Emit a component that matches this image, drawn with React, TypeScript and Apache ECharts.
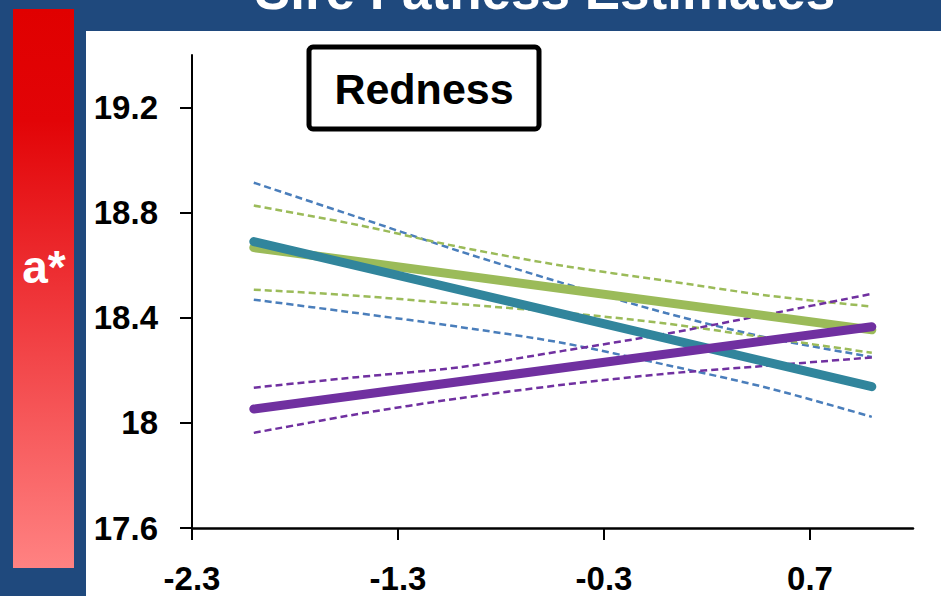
import React, { useEffect, useRef } from "react";
import * as echarts from "echarts";

// Data
const xTickValues = [-2.3, -1.3, -0.3, 0.7];
const yTickValues = [17.6, 18, 18.4, 18.8, 19.2];

const lineX = [-2, 1];
const greenMean = [18.667, 18.354];
const tealMean = [18.69, 18.138];
const purpleMean = [18.053, 18.366];

const bandX = [-2, -1.5, -1, -0.5, 0, 0.5, 1];
const blueUpper = [18.914, 18.784, 18.653, 18.532, 18.418, 18.323, 18.251];
const blueLower = [18.469, 18.418, 18.365, 18.304, 18.221, 18.132, 18.023];
const greenUpper = [18.827, 18.754, 18.669, 18.598, 18.541, 18.484, 18.443];
const greenLower = [18.507, 18.484, 18.452, 18.42, 18.378, 18.323, 18.267];
const purpleUpper = [18.134, 18.174, 18.212, 18.274, 18.339, 18.414, 18.491];
const purpleLower = [17.962, 18.033, 18.094, 18.145, 18.187, 18.218, 18.249];

const zip = (xs: number[], ys: number[]) => xs.map((x, i) => [x, ys[i]]);

const FONT = "'Liberation Sans', Arial, sans-serif";

export default function App() {
  const ref = useRef<HTMLDivElement>(null);
  useEffect(() => {
    if (!ref.current) return;
    const chart = echarts.init(ref.current, undefined, { renderer: "svg" });

    const dashed = (name: string, ys: number[], color: string) => ({
      name,
      type: "line",
      data: zip(bandX, ys),
      symbol: "none",
      smooth: 0.3,
      lineStyle: { color, width: 2.5, type: [7, 4] },
      z: 2,
    });
    const solid = (name: string, ys: number[], color: string, z: number) => ({
      name,
      type: "line",
      data: zip(lineX, ys),
      symbol: "none",
      lineStyle: { color, width: 9, cap: "round" },
      z,
    });

    chart.setOption({
      animation: false,
      backgroundColor: "#1F497D",
      grid: { left: 192, right: 28, top: 55, bottom: 68, containLabel: false },
      xAxis: {
        type: "value",
        min: -2.3,
        max: 1.2,
        axisLine: { show: true, onZero: false, lineStyle: { color: "#000", width: 2.5 } },
        axisTick: { show: true, length: 12, customValues: xTickValues, lineStyle: { color: "#000", width: 2 } },
        axisLabel: {
          customValues: xTickValues,
          formatter: (v: number) => v.toFixed(1),
          color: "#000",
          fontFamily: FONT,
          fontWeight: "bold",
          fontSize: 33,
          margin: 34,
        },
        splitLine: { show: false },
      },
      yAxis: {
        type: "value",
        min: 17.6,
        max: 19.4,
        axisLine: { show: true, onZero: false, lineStyle: { color: "#000", width: 2 } },
        axisTick: { show: true, length: 12, customValues: yTickValues, lineStyle: { color: "#000", width: 2 } },
        axisLabel: {
          customValues: yTickValues,
          formatter: (v: number) => String(Math.round(v * 10) / 10),
          color: "#000",
          fontFamily: FONT,
          fontWeight: "bold",
          fontSize: 33,
          margin: 34,
        },
        splitLine: { show: false },
      },
      graphic: [
        {
          type: "rect",
          z: -10,
          shape: { x: 86, y: 31, width: 855, height: 565 },
          style: { fill: "#fff" },
          silent: true,
        },
        {
          type: "rect",
          z: -5,
          shape: { x: 13, y: 9, width: 61, height: 559 },
          style: {
            fill: new echarts.graphic.LinearGradient(0, 0, 0, 1, [
              { offset: 0, color: "#E00000" },
              { offset: 0.2, color: "#E20407" },
              { offset: 0.5, color: "#EE3236" },
              { offset: 1, color: "#FF8282" },
            ]),
          },
          silent: true,
        },
        {
          type: "text",
          z: 10,
          x: 44,
          y: 267,
          style: {
            text: "a*",
            fill: "#fff",
            font: `bold 46px ${FONT}`,
            align: "center",
            verticalAlign: "middle",
          },
        },
        {
          type: "text",
          z: 10,
          x: 545,
          y: -10,
          style: {
            text: "Sire Fatness Estimates",
            fill: "#fff",
            font: `bold 53px ${FONT}`,
            align: "center",
            verticalAlign: "middle",
          },
        },
        {
          type: "rect",
          z: 10,
          shape: { x: 309, y: 47, width: 230, height: 82, r: 4 },
          style: { fill: "#fff", stroke: "#000", lineWidth: 5 },
        },
        {
          type: "text",
          z: 11,
          x: 424,
          y: 89,
          style: {
            text: "Redness",
            fill: "#000",
            font: `bold 43px ${FONT}`,
            align: "center",
            verticalAlign: "middle",
          },
        },
      ],
      series: [
        dashed("Blue upper", blueUpper, "#4A7EBB"),
        dashed("Blue lower", blueLower, "#4A7EBB"),
        dashed("Green upper", greenUpper, "#9BBB59"),
        dashed("Green lower", greenLower, "#9BBB59"),
        dashed("Purple upper", purpleUpper, "#7030A0"),
        dashed("Purple lower", purpleLower, "#7030A0"),
        solid("Green", greenMean, "#9BBB59", 3),
        solid("Teal", tealMean, "#31859C", 4),
        solid("Purple", purpleMean, "#7030A0", 5),
      ],
    });
    return () => chart.dispose();
  }, []);
  return (
    <div
      ref={ref}
      style={{ position: "absolute", left: 0, top: 0, width: 941, height: 596 }}
    />
  );
}
